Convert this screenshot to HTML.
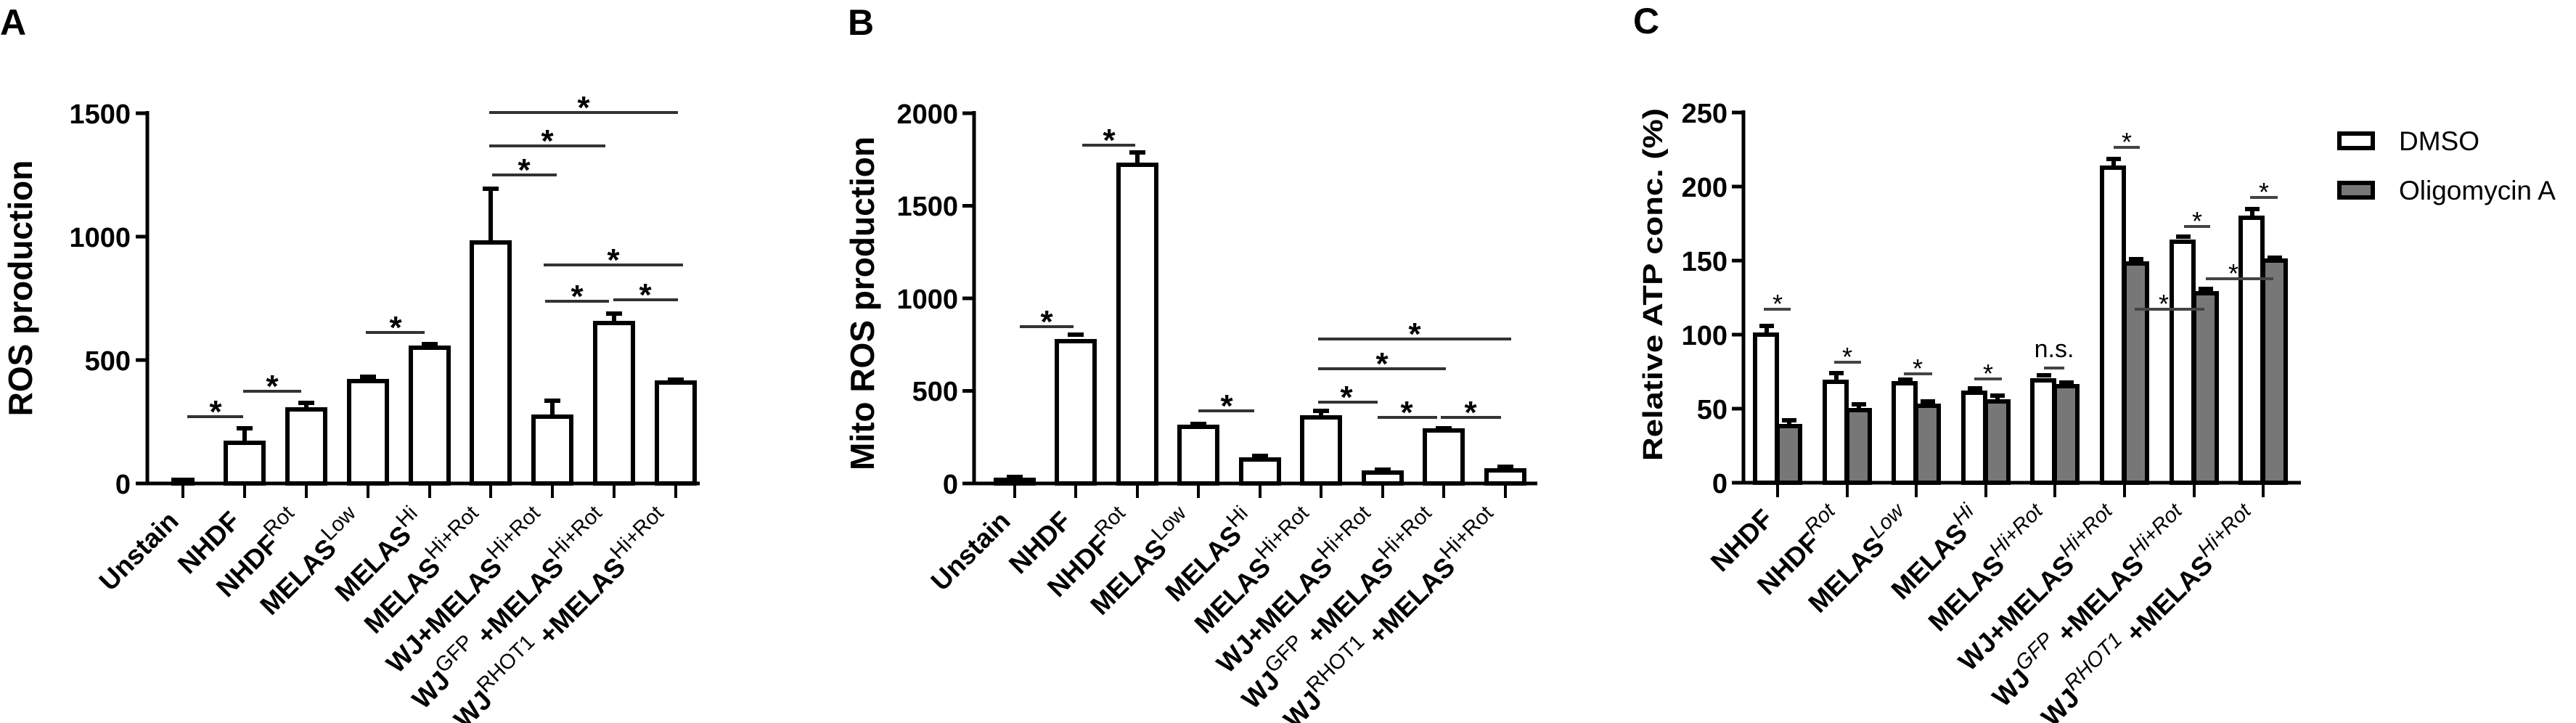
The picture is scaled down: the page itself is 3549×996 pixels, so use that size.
<!DOCTYPE html>
<html><head><meta charset="utf-8"><style>
html,body{margin:0;padding:0;background:#fff;}
svg{display:block;font-family:"Liberation Sans",Arial,sans-serif;}
.t{font-weight:bold;font-size:38px;}
.x{font-weight:bold;font-size:37px;}
.s{font-size:29px;font-weight:normal;}
.st{font-weight:bold;font-size:44px;}
.cs{font-size:36px;}
</style></head><body>
<svg width="3549" height="996" viewBox="0 0 3549 996" xmlns="http://www.w3.org/2000/svg">
<text x="0" y="48" font-size="50" font-weight="bold">A</text>
<text x="1168" y="48" font-size="50" font-weight="bold">B</text>
<text x="2250" y="46" font-size="50" font-weight="bold">C</text>

<!-- ================= PANEL A ================= -->
<g stroke="#000" stroke-width="5" fill="none">
<line x1="203" y1="153" x2="203" y2="668"/>
<line x1="200" y1="666" x2="964" y2="666"/>
<line x1="187" y1="156" x2="203" y2="156"/>
<line x1="187" y1="326" x2="203" y2="326"/>
<line x1="187" y1="496" x2="203" y2="496"/>
<line x1="187" y1="666" x2="203" y2="666"/>
<g stroke-width="4">
<line x1="252" y1="666" x2="252" y2="686"/><line x1="337" y1="666" x2="337" y2="686"/><line x1="422" y1="666" x2="422" y2="686"/><line x1="507" y1="666" x2="507" y2="686"/><line x1="592" y1="666" x2="592" y2="686"/><line x1="676" y1="666" x2="676" y2="686"/><line x1="761" y1="666" x2="761" y2="686"/><line x1="846" y1="666" x2="846" y2="686"/><line x1="931" y1="666" x2="931" y2="686"/>
</g>
</g>
<g class="t" text-anchor="end">
<text x="180" y="170">1500</text><text x="180" y="340">1000</text><text x="180" y="510">500</text><text x="180" y="680">0</text>
</g>
<text transform="translate(44,397) rotate(-90)" text-anchor="middle" font-weight="bold" font-size="46">ROS production</text>
<g stroke="#000" stroke-width="6" fill="#fff">
<rect x="239" y="661" width="26" height="5" fill="#000"/>
<line x1="337" y1="610" x2="337" y2="590"/><line x1="326" y1="590" x2="348" y2="590"/>
<rect x="311" y="610" width="52" height="56"/>
<line x1="422" y1="564" x2="422" y2="555"/><line x1="411" y1="555" x2="433" y2="555"/>
<rect x="396" y="564" width="52" height="102"/>
<line x1="496" y1="519" x2="518" y2="519"/>
<rect x="481" y="525" width="52" height="141"/>
<line x1="581" y1="474" x2="603" y2="474"/>
<rect x="566" y="479" width="52" height="187"/>
<line x1="676" y1="334" x2="676" y2="260"/><line x1="665" y1="260" x2="687" y2="260"/>
<rect x="650" y="334" width="52" height="332"/>
<line x1="761" y1="574" x2="761" y2="552"/><line x1="750" y1="552" x2="772" y2="552"/>
<rect x="735" y="574" width="52" height="92"/>
<line x1="846" y1="445" x2="846" y2="432"/><line x1="835" y1="432" x2="857" y2="432"/>
<rect x="820" y="445" width="52" height="221"/>
<line x1="920" y1="523" x2="942" y2="523"/>
<rect x="905" y="527" width="52" height="139"/>
</g>
<g stroke="#333" stroke-width="4">
<line x1="258" y1="574" x2="335" y2="574"/>
<line x1="335" y1="539" x2="415" y2="539"/>
<line x1="504" y1="458" x2="585" y2="458"/>
<line x1="678" y1="241" x2="767" y2="241"/>
<line x1="674" y1="201" x2="834" y2="201"/>
<line x1="674" y1="155" x2="934" y2="155"/>
<line x1="749" y1="365" x2="941" y2="365"/>
<line x1="751" y1="415" x2="839" y2="415"/>
<line x1="845" y1="413" x2="934" y2="413"/>
</g>
<g class="st" text-anchor="middle">
<text x="297" y="582">*</text><text x="375" y="547">*</text><text x="545" y="466">*</text>
<text x="722" y="249">*</text><text x="754" y="209">*</text><text x="804" y="163">*</text>
<text x="845" y="373">*</text><text x="795" y="423">*</text><text x="889" y="421">*</text>
</g>
<g class="x" text-anchor="end">
<text transform="translate(248,720) rotate(-45)">Unstain</text>
<text transform="translate(333,720) rotate(-45)">NHDF</text>
<text transform="translate(418,720) rotate(-45)">NHDF<tspan class="s" dy="-16">Rot</tspan></text>
<text transform="translate(503,720) rotate(-45)">MELAS<tspan class="s" dy="-16">Low</tspan></text>
<text transform="translate(588,720) rotate(-45)">MELAS<tspan class="s" dy="-16">Hi</tspan></text>
<text transform="translate(672,720) rotate(-45)">MELAS<tspan class="s" dy="-16">Hi+Rot</tspan></text>
<text transform="translate(757,720) rotate(-45)">WJ+MELAS<tspan class="s" dy="-16">Hi+Rot</tspan></text>
<text transform="translate(842,720) rotate(-45)">WJ<tspan class="s" dy="-16">GFP</tspan><tspan dy="16"> +MELAS</tspan><tspan class="s" dy="-16">Hi+Rot</tspan></text>
<text transform="translate(927,720) rotate(-45)">WJ<tspan class="s" dy="-16">RHOT1</tspan><tspan dy="16"> +MELAS</tspan><tspan class="s" dy="-16">Hi+Rot</tspan></text>
</g>

<!-- ================= PANEL B ================= -->
<g stroke="#000" stroke-width="5" fill="none">
<line x1="1342" y1="153" x2="1342" y2="668"/>
<line x1="1339" y1="666" x2="2118" y2="666"/>
<line x1="1326" y1="156" x2="1342" y2="156"/>
<line x1="1326" y1="283.5" x2="1342" y2="283.5"/>
<line x1="1326" y1="411" x2="1342" y2="411"/>
<line x1="1326" y1="538.5" x2="1342" y2="538.5"/>
<line x1="1326" y1="666" x2="1342" y2="666"/>
<g stroke-width="4">
<line x1="1398" y1="666" x2="1398" y2="686"/><line x1="1482" y1="666" x2="1482" y2="686"/><line x1="1567" y1="666" x2="1567" y2="686"/><line x1="1651" y1="666" x2="1651" y2="686"/><line x1="1736" y1="666" x2="1736" y2="686"/><line x1="1820" y1="666" x2="1820" y2="686"/><line x1="1905" y1="666" x2="1905" y2="686"/><line x1="1989" y1="666" x2="1989" y2="686"/><line x1="2074" y1="666" x2="2074" y2="686"/>
</g>
</g>
<g class="t" text-anchor="end">
<text x="1320" y="170">2000</text><text x="1320" y="297">1500</text><text x="1320" y="425">1000</text><text x="1320" y="552">500</text><text x="1320" y="680">0</text>
</g>
<text transform="translate(1204,418) rotate(-90)" text-anchor="middle" font-weight="bold" font-size="46">Mito ROS production</text>
<g stroke="#000" stroke-width="6" fill="#fff">
<line x1="1387" y1="657" x2="1409" y2="657"/>
<rect x="1372" y="661" width="52" height="5"/>
<line x1="1471" y1="461" x2="1493" y2="461"/>
<rect x="1456" y="470" width="52" height="196"/>
<line x1="1567" y1="227" x2="1567" y2="210"/><line x1="1556" y1="210" x2="1578" y2="210"/>
<rect x="1541" y="227" width="52" height="439"/>
<line x1="1640" y1="584" x2="1662" y2="584"/>
<rect x="1625" y="588" width="52" height="78"/>
<line x1="1725" y1="628" x2="1747" y2="628"/>
<rect x="1710" y="633" width="52" height="33"/>
<line x1="1820" y1="575" x2="1820" y2="566"/><line x1="1809" y1="566" x2="1831" y2="566"/>
<rect x="1794" y="575" width="52" height="91"/>
<line x1="1894" y1="647" x2="1916" y2="647"/>
<rect x="1879" y="651" width="52" height="15"/>
<line x1="1978" y1="590" x2="2000" y2="590"/>
<rect x="1963" y="593" width="52" height="73"/>
<line x1="2063" y1="643" x2="2085" y2="643"/>
<rect x="2048" y="648" width="52" height="18"/>
</g>
<g stroke="#333" stroke-width="4">
<line x1="1405" y1="450" x2="1479" y2="450"/>
<line x1="1491" y1="200" x2="1564" y2="200"/>
<line x1="1651" y1="566" x2="1728" y2="566"/>
<line x1="1816" y1="467" x2="2082" y2="467"/>
<line x1="1816" y1="508" x2="1992" y2="508"/>
<line x1="1816" y1="554" x2="1898" y2="554"/>
<line x1="1898" y1="575" x2="1980" y2="575"/>
<line x1="1985" y1="575" x2="2068" y2="575"/>
</g>
<g class="st" text-anchor="middle">
<text x="1442" y="458">*</text><text x="1528" y="208">*</text><text x="1690" y="574">*</text>
<text x="1949" y="475">*</text><text x="1904" y="516">*</text><text x="1855" y="562">*</text>
<text x="1938" y="583">*</text><text x="2026" y="583">*</text>
</g>
<g class="x" text-anchor="end">
<text transform="translate(1394,720) rotate(-45)">Unstain</text>
<text transform="translate(1478,720) rotate(-45)">NHDF</text>
<text transform="translate(1563,720) rotate(-45)">NHDF<tspan class="s" dy="-16">Rot</tspan></text>
<text transform="translate(1647,720) rotate(-45)">MELAS<tspan class="s" dy="-16">Low</tspan></text>
<text transform="translate(1732,720) rotate(-45)">MELAS<tspan class="s" dy="-16">Hi</tspan></text>
<text transform="translate(1816,720) rotate(-45)">MELAS<tspan class="s" dy="-16">Hi+Rot</tspan></text>
<text transform="translate(1901,720) rotate(-45)">WJ+MELAS<tspan class="s" dy="-16">Hi+Rot</tspan></text>
<text transform="translate(1985,720) rotate(-45)">WJ<tspan class="s" dy="-16">GFP</tspan><tspan dy="16"> +MELAS</tspan><tspan class="s" dy="-16">Hi+Rot</tspan></text>
<text transform="translate(2070,720) rotate(-45)">WJ<tspan class="s" dy="-16">RHOT1</tspan><tspan dy="16"> +MELAS</tspan><tspan class="s" dy="-16">Hi+Rot</tspan></text>
</g>

<!-- ================= PANEL C ================= -->
<g stroke="#000" stroke-width="5" fill="none">
<line x1="2402" y1="152" x2="2402" y2="667"/>
<line x1="2399" y1="665" x2="3170" y2="665"/>
<line x1="2386" y1="155" x2="2402" y2="155"/>
<line x1="2386" y1="257" x2="2402" y2="257"/>
<line x1="2386" y1="359" x2="2402" y2="359"/>
<line x1="2386" y1="461" x2="2402" y2="461"/>
<line x1="2386" y1="563" x2="2402" y2="563"/>
<line x1="2386" y1="665" x2="2402" y2="665"/>
<g stroke-width="4">
<line x1="2449" y1="665" x2="2449" y2="685"/><line x1="2545" y1="665" x2="2545" y2="685"/><line x1="2640" y1="665" x2="2640" y2="685"/><line x1="2736" y1="665" x2="2736" y2="685"/><line x1="2831" y1="665" x2="2831" y2="685"/><line x1="2927" y1="665" x2="2927" y2="685"/><line x1="3023" y1="665" x2="3023" y2="685"/><line x1="3118" y1="665" x2="3118" y2="685"/>
</g>
</g>
<g class="t" text-anchor="end">
<text x="2380" y="169">250</text><text x="2380" y="271">200</text><text x="2380" y="373">150</text><text x="2380" y="475">100</text><text x="2380" y="577">50</text><text x="2380" y="679">0</text>
</g>
<text transform="translate(2290,392) rotate(-90)" text-anchor="middle" font-weight="bold" font-size="38" textLength="486" lengthAdjust="spacingAndGlyphs">Relative ATP conc. (%)</text>
<g stroke="#000" stroke-width="6">
<line x1="2434" y1="461" x2="2434" y2="449" /><line x1="2424" y1="449" x2="2444" y2="449"/>
<rect x="2418" y="461" width="30" height="204" fill="#fff"/>
<line x1="2465" y1="587" x2="2465" y2="579"/><line x1="2455" y1="579" x2="2475" y2="579"/>
<rect x="2449" y="587" width="31" height="78" fill="#777"/>
<line x1="2530" y1="526" x2="2530" y2="514"/><line x1="2520" y1="514" x2="2540" y2="514"/>
<rect x="2514" y="526" width="30" height="139" fill="#fff"/>
<line x1="2561" y1="565" x2="2561" y2="557"/><line x1="2551" y1="557" x2="2571" y2="557"/>
<rect x="2545" y="565" width="31" height="100" fill="#777"/>
<line x1="2615" y1="523" x2="2635" y2="523"/>
<rect x="2609" y="528" width="30" height="137" fill="#fff"/>
<line x1="2646" y1="553" x2="2666" y2="553"/>
<rect x="2640" y="559" width="31" height="106" fill="#777"/>
<line x1="2711" y1="535" x2="2731" y2="535"/>
<rect x="2705" y="541" width="30" height="124" fill="#fff"/>
<line x1="2752" y1="553" x2="2752" y2="545"/><line x1="2742" y1="545" x2="2762" y2="545"/>
<rect x="2736" y="553" width="31" height="112" fill="#777"/>
<line x1="2806" y1="517" x2="2826" y2="517"/>
<rect x="2800" y="524" width="30" height="141" fill="#fff"/>
<line x1="2837" y1="527" x2="2857" y2="527"/>
<rect x="2831" y="532" width="31" height="133" fill="#777"/>
<line x1="2912" y1="231" x2="2912" y2="219"/><line x1="2902" y1="219" x2="2922" y2="219"/>
<rect x="2896" y="231" width="30" height="434" fill="#fff"/>
<line x1="2933" y1="357" x2="2953" y2="357"/>
<rect x="2927" y="363" width="31" height="302" fill="#777"/>
<line x1="2998" y1="326" x2="3018" y2="326"/>
<rect x="2992" y="333" width="30" height="332" fill="#fff"/>
<line x1="3029" y1="398" x2="3049" y2="398"/>
<rect x="3023" y="404" width="31" height="261" fill="#777"/>
<line x1="3103" y1="300" x2="3103" y2="288"/><line x1="3093" y1="288" x2="3113" y2="288"/>
<rect x="3087" y="300" width="30" height="365" fill="#fff"/>
<line x1="3124" y1="355" x2="3144" y2="355"/>
<rect x="3118" y="359" width="31" height="306" fill="#777"/>
</g>
<g stroke="#444" stroke-width="4">
<line x1="2430" y1="426" x2="2467" y2="426"/>
<line x1="2527" y1="499" x2="2564" y2="499"/>
<line x1="2623" y1="515" x2="2662" y2="515"/>
<line x1="2720" y1="522" x2="2758" y2="522"/>
<line x1="2816" y1="507" x2="2844" y2="507"/>
<line x1="2912" y1="203" x2="2948" y2="203"/>
<line x1="3009" y1="312" x2="3045" y2="312"/>
<line x1="3100" y1="272" x2="3138" y2="272"/>
<line x1="2941" y1="426" x2="3037" y2="426"/>
<line x1="3039" y1="384" x2="3132" y2="384"/>
</g>
<g class="cs" text-anchor="middle">
<text x="2449" y="431">*</text><text x="2545" y="504">*</text><text x="2642" y="520">*</text><text x="2739" y="527">*</text>
<text x="2930" y="208">*</text><text x="3027" y="317">*</text><text x="3119" y="277">*</text>
<text x="2981" y="431">*</text><text x="3077" y="389">*</text>
<text x="2830" y="492" font-size="34">n.s.</text>
</g>
<g class="x" text-anchor="end" font-size="37">
<text transform="translate(2445,717) rotate(-45)">NHDF</text>
<text transform="translate(2541,717) rotate(-45)">NHDF<tspan class="s" font-style="italic" dy="-16">Rot</tspan></text>
<text transform="translate(2636,717) rotate(-45)">MELAS<tspan class="s" font-style="italic" dy="-16">Low</tspan></text>
<text transform="translate(2732,717) rotate(-45)">MELAS<tspan class="s" font-style="italic" dy="-16">Hi</tspan></text>
<text transform="translate(2827,717) rotate(-45)">MELAS<tspan class="s" font-style="italic" dy="-16">Hi+Rot</tspan></text>
<text transform="translate(2923,717) rotate(-45)">WJ+MELAS<tspan class="s" font-style="italic" dy="-16">Hi+Rot</tspan></text>
<text transform="translate(3019,717) rotate(-45)">WJ<tspan class="s" font-style="italic" dy="-16">GFP</tspan><tspan dy="16"> +MELAS</tspan><tspan class="s" font-style="italic" dy="-16">Hi+Rot</tspan></text>
<text transform="translate(3114,717) rotate(-45)">WJ<tspan class="s" font-style="italic" dy="-16">RHOT1</tspan><tspan dy="16"> +MELAS</tspan><tspan class="s" font-style="italic" dy="-16">Hi+Rot</tspan></text>
</g>
<rect x="3223" y="184" width="46" height="20" fill="#fff" stroke="#000" stroke-width="6"/>
<rect x="3223" y="252" width="46" height="20" fill="#777" stroke="#000" stroke-width="6"/>
<text x="3305" y="207" font-size="37">DMSO</text>
<text x="3305" y="275" font-size="37">Oligomycin A</text>
</svg>
</body></html>
